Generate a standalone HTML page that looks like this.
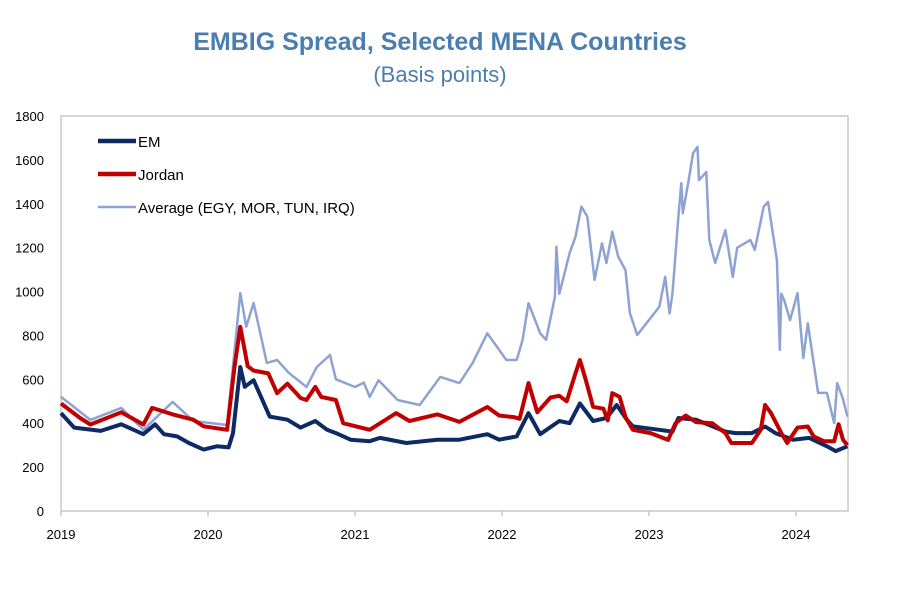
<!DOCTYPE html>
<html><head><meta charset="utf-8"><style>
body{margin:0;background:#fff;width:914px;height:590px;overflow:hidden;font-family:"Liberation Sans",sans-serif}
</style></head><body>
<svg id="chart" width="914" height="590" viewBox="0 0 914 590" xmlns="http://www.w3.org/2000/svg">
<text x="440" y="50" text-anchor="middle" font-size="25" font-weight="bold" fill="#4a7eb0" font-family="Liberation Sans, sans-serif">EMBIG Spread, Selected MENA Countries</text>
<text x="440" y="82" text-anchor="middle" font-size="22" fill="#4a7eb0" font-family="Liberation Sans, sans-serif">(Basis points)</text>
<rect x="61" y="116" width="787" height="395" fill="none" stroke="#c8c8c8" stroke-width="1.5"/>
<g id="yaxis"></g>
<g id="xaxis"></g>
<g id="series"></g>
<g font-size="15" font-family="Liberation Sans, sans-serif">
<g><line x1="98" y1="141" x2="136" y2="141" stroke="#0d2a63" stroke-width="4.5"/><text x="138" y="147">EM</text></g>
<g><line x1="98" y1="174" x2="136" y2="174" stroke="#c00000" stroke-width="4.5"/><text x="138" y="180">Jordan</text></g>
<g><line x1="98" y1="207" x2="136" y2="207" stroke="#8ea3d3" stroke-width="2.5"/><text x="138" y="213">Average (EGY, MOR, TUN, IRQ)</text></g>
</g>
</svg>
<script>
const yTicks=[0,200,400,600,800,1000,1200,1400,1600,1800];
const xTicks=[2019,2020,2021,2022,2023,2024];
const avgT=[2019.0,2019.2,2019.41,2019.56,2019.76,2019.9,2020.13,2020.22,2020.26,2020.31,2020.40,2020.47,2020.55,2020.67,2020.74,2020.83,2020.87,2021.0,2021.06,2021.10,2021.16,2021.29,2021.44,2021.58,2021.71,2021.80,2021.90,2022.03,2022.1,2022.14,2022.18,2022.26,2022.30,2022.36,2022.37,2022.39,2022.46,2022.50,2022.54,2022.58,2022.63,2022.68,2022.71,2022.75,2022.79,2022.84,2022.87,2022.92,2023.07,2023.11,2023.14,2023.16,2023.20,2023.22,2023.23,2023.27,2023.30,2023.33,2023.34,2023.39,2023.41,2023.45,2023.52,2023.57,2023.60,2023.69,2023.72,2023.78,2023.81,2023.83,2023.87,2023.89,2023.90,2023.92,2023.96,2024.01,2024.05,2024.08,2024.15,2024.21,2024.26,2024.28,2024.32,2024.35];
const avgV=[520,415,470,370,497,410,392,993,840,948,675,688,630,565,656,711,600,565,585,520,596,506,483,611,583,674,810,688,688,780,947,810,780,976,1204,990,1175,1250,1387,1342,1053,1220,1130,1273,1160,1098,902,802,930,1067,900,993,1342,1494,1357,1508,1631,1659,1508,1545,1235,1130,1280,1067,1200,1235,1190,1387,1408,1320,1144,734,990,960,870,993,697,856,538,538,401,583,510,430];
const jorT=[2019.0,2019.13,2019.2,2019.41,2019.56,2019.62,2019.76,2019.90,2019.97,2020.13,2020.18,2020.22,2020.27,2020.31,2020.41,2020.47,2020.54,2020.63,2020.67,2020.73,2020.77,2020.87,2020.92,2021.10,2021.28,2021.37,2021.56,2021.71,2021.90,2021.98,2022.08,2022.12,2022.18,2022.24,2022.33,2022.39,2022.44,2022.50,2022.53,2022.57,2022.62,2022.69,2022.72,2022.75,2022.80,2022.84,2022.89,2023.01,2023.13,2023.18,2023.25,2023.32,2023.43,2023.52,2023.56,2023.70,2023.76,2023.79,2023.83,2023.90,2023.94,2024.01,2024.08,2024.12,2024.19,2024.26,2024.29,2024.32,2024.35];
const jorV=[490,424,394,450,394,470,440,416,386,370,656,839,660,640,627,537,580,515,506,566,520,506,400,370,446,410,440,406,474,435,428,420,583,450,517,525,500,628,688,597,475,466,413,537,520,428,370,355,324,400,435,405,400,355,310,310,370,483,446,355,310,380,385,340,318,318,395,325,300];
const emT=[2019.0,2019.09,2019.27,2019.41,2019.56,2019.64,2019.70,2019.79,2019.87,2019.97,2020.06,2020.14,2020.17,2020.22,2020.25,2020.31,2020.42,2020.54,2020.63,2020.73,2020.81,2020.87,2020.97,2021.10,2021.17,2021.35,2021.56,2021.71,2021.90,2021.98,2022.1,2022.18,2022.26,2022.39,2022.46,2022.53,2022.62,2022.71,2022.78,2022.85,2022.89,2023.07,2023.16,2023.20,2023.32,2023.52,2023.59,2023.70,2023.79,2023.86,2023.98,2024.09,2024.21,2024.27,2024.35];
const emV=[446,380,365,395,350,395,350,340,310,280,295,290,355,656,566,596,430,416,380,410,370,355,325,318,333,310,325,325,350,325,340,446,350,410,400,490,410,424,483,416,386,370,362,424,416,362,355,355,385,355,325,333,295,273,295];
const NS="http://www.w3.org/2000/svg";
const L=61,R=848,T=116,B=511;
function xs(t){return L+(t-2019)*147;}
function ys(v){return B-(v/1800)*(B-T);}
const ya=document.getElementById('yaxis'),xa=document.getElementById('xaxis'),sg=document.getElementById('series');
yTicks.forEach(v=>{const t=document.createElementNS(NS,'text');


t.setAttribute('x',L-17);t.setAttribute('y',ys(v)+5);t.setAttribute('text-anchor','end');t.setAttribute('font-size','13');t.textContent=v;ya.appendChild(t);});
xTicks.forEach(v=>{const t=document.createElementNS(NS,'text');


t.setAttribute('x',xs(v));t.setAttribute('y',B+28);t.setAttribute('text-anchor','middle');t.setAttribute('font-size','13');t.textContent=v;xa.appendChild(t);
const k=document.createElementNS(NS,'line');


k.setAttribute('x1',xs(v));k.setAttribute('x2',xs(v));k.setAttribute('y1',B);k.setAttribute('y2',B+5);k.setAttribute('stroke','#c8c8c8');k.setAttribute('stroke-width','1.5');xa.appendChild(k);});
function draw(T2,V,color,w,name){const p=document.createElementNS(NS,'path');


p.setAttribute('d',T2.map((t,i)=>(i?'L':'M')+xs(t).toFixed(1)+' '+ys(V[i]).toFixed(1)).join(' '));
p.setAttribute('fill','none');p.setAttribute('stroke',color);p.setAttribute('stroke-width',w);p.setAttribute('stroke-linejoin','round');sg.appendChild(p);}
draw(avgT,avgV,'#8ea3d3',2.5,'average-line');
draw(emT,emV,'#0d2a63',4,'em-line');
draw(jorT,jorV,'#c00000',4,'jordan-line');
</script>
</body></html>
